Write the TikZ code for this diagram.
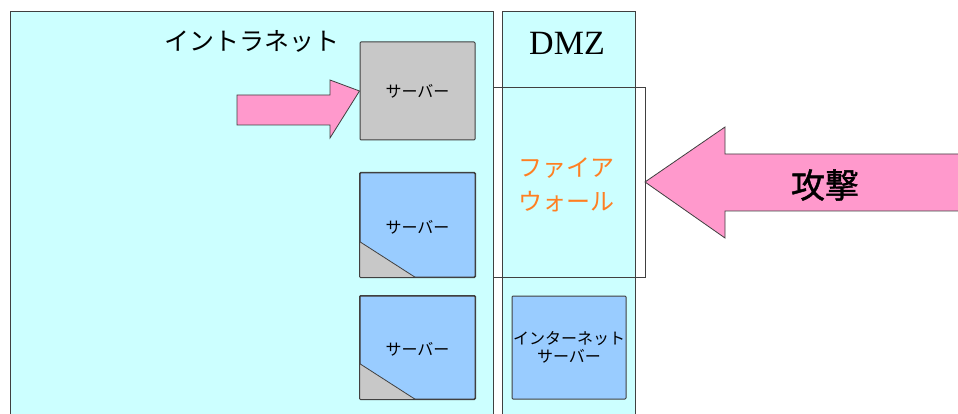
\documentclass[tikz,border=0pt]{standalone}
\usepackage{fontspec}
\setmainfont{Liberation Serif}
\newfontfamily\jp{Noto Sans CJK JP}
\newfontfamily\jpm[FakeBold=1.2]{Noto Sans CJK JP}
\definecolor{bgcyan}{HTML}{CCFFFF}
\definecolor{arrowpink}{HTML}{FF99CC}
\definecolor{srvgray}{HTML}{C8C8C8}
\definecolor{srvblue}{HTML}{99CCFF}
\definecolor{fworange}{HTML}{FF7F22}
\definecolor{edge}{HTML}{404040}
\begin{document}
\begin{tikzpicture}[x=1pt,y=-1pt,
  zone/.style={draw=edge,fill=bgcyan,line width=1pt},
  srvbox/.style={draw=edge,line width=1pt,rounded corners=1pt},
  blockarrow/.style={draw=edge,fill=arrowpink,line width=0.8pt,line join=miter},
  lbl/.style={inner sep=0pt,align=center}]
\useasboundingbox (0,0) rectangle (958,414);
\fill[white] (0,0) rectangle (958,414);
% zones
\draw[zone] (10,420) -- (10,12) -- (493,12) -- (493,420);
\draw[zone] (502,420) -- (502,12) -- (635,12) -- (635,420);
\node[lbl,font=\jp\fontsize{25}{28}\selectfont] (intra) at (252,41) {イントラネット};
\node[lbl,font=\fontsize{34}{36}\selectfont] (dmz) at (567,43) {DMZ};
% firewall outline
\draw[draw=edge,line width=0.9pt] (493,87) -- (645,87) -- (645,277) -- (493,277);
\node[lbl,text=fworange,font=\jp\fontsize{24}{34}\selectfont] (fw) at (566,185) {ファイア\\ウォール};
% servers
\node[srvbox,fill=srvgray,minimum width=115pt,minimum height=98pt,inner sep=0pt] (s1) at (417.5,91) {};
\node[lbl,font=\jp\fontsize{16}{18}\selectfont] at (s1) {サーバー};
\node[srvbox,fill=srvblue,minimum width=115pt,minimum height=104pt,inner sep=0pt] (s2) at (417.5,225) {};
\fill[srvgray] (s2.south west) -- ++(0,-36) -- ++(56,36) -- cycle;
\draw[edge,line width=0.8pt] (s2.south west) ++(0,-36) -- ++(56,36);
\draw[srvbox] (s2.south west) rectangle (s2.north east);
\node[lbl,font=\jp\fontsize{16}{18}\selectfont] at ([yshift=-2pt]s2.center) {サーバー};
\node[srvbox,fill=srvblue,minimum width=115pt,minimum height=103pt,inner sep=0pt] (s3) at (417.5,347.5) {};
\fill[srvgray] (s3.south west) -- ++(0,-36) -- ++(56,36) -- cycle;
\draw[edge,line width=0.8pt] (s3.south west) ++(0,-36) -- ++(56,36);
\draw[srvbox] (s3.south west) rectangle (s3.north east);
\node[lbl,font=\jp\fontsize{16}{18}\selectfont] at ([yshift=-2pt]s3.center) {サーバー};
\node[srvbox,fill=srvblue,minimum width=114pt,minimum height=103pt,inner sep=0pt] (s4) at (569,347.5) {};
\node[lbl,font=\jp\fontsize{16}{18.5}\selectfont] at (s4) {インターネット\\サーバー};
% small arrow into gray server
\draw[blockarrow] (237,95) -- (330,95) -- (330,80) -- (s1.west) -- (330,138) -- (330,125) -- (237,125) -- cycle;
% attack arrow
\coordinate (atk) at (645,182);
\draw[blockarrow] (962,154) -- (725,154) -- (725,127) -- (atk) -- (725,238) -- (725,211) -- (962,211);
\node[lbl,font=\jpm\fontsize{34}{36}\selectfont] (attack) at (825,185) {攻撃};
\end{tikzpicture}
\end{document}
